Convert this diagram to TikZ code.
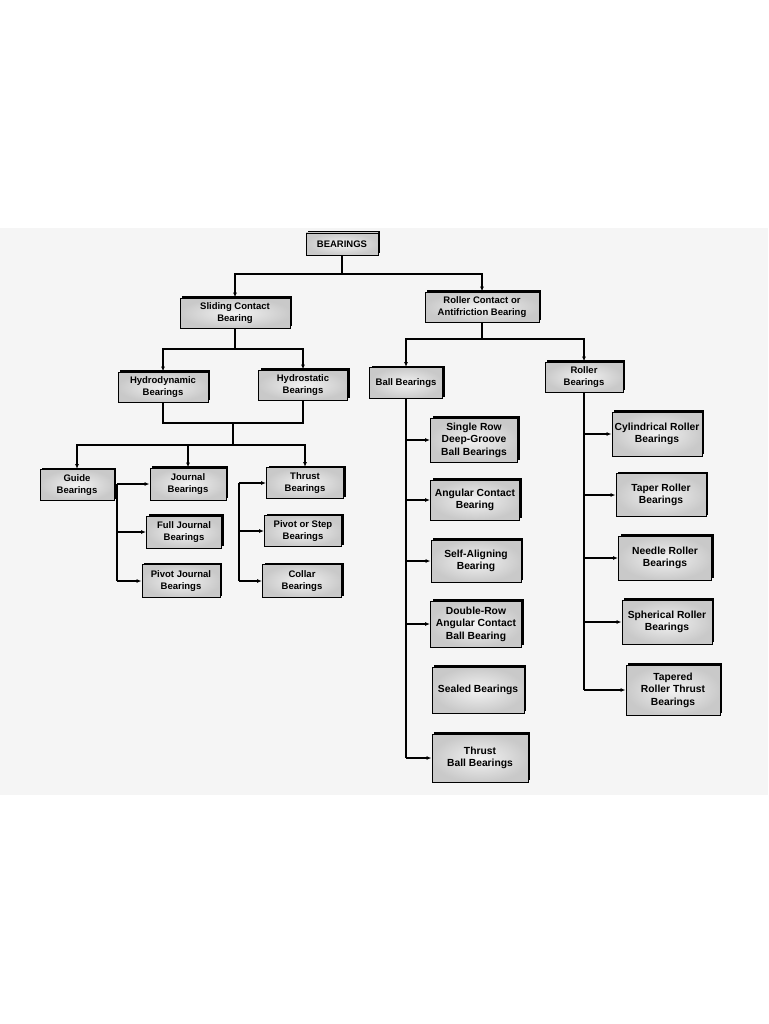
\documentclass[tikz,border=0pt]{standalone}
\usepackage{fontspec}
\setmainfont{Liberation Sans}
\usetikzlibrary{positioning, shadows, arrows.meta}

\tikzset{
  box/.style={draw=black, line width=0.9pt, inner color=gray!10, outer color=gray!42,
    align=center, inner sep=1pt, font=\bfseries\fontsize{9.5}{11.5}\selectfont,
    drop shadow={shadow xshift=2pt, shadow yshift=2pt, fill=black, opacity=1}},
  bigbox/.style={box, font=\bfseries\fontsize{10.3}{12.5}\selectfont},
  branch/.style={-{Latex[length=5pt,width=4pt]}},
  link/.style={line width=1.1pt}
}

\begin{document}
\begin{tikzpicture}[x=1pt, y=-1pt, link]
\useasboundingbox (0,0) rectangle (768,1024);
\fill[gray!8] (0,228) rectangle (768,795);
% top levels
\node [box, minimum width=72pt, minimum height=22pt] (bear) at (342,244) {BEARINGS};
\node [box, minimum width=110pt, minimum height=30pt] (slide) at (235,313) {Sliding Contact\\Bearing};
\node [box, minimum width=114pt, minimum height=30pt] (roll) at (482,307) {Roller Contact or\\Antifriction Bearing};
\node [box, minimum width=90pt, minimum height=30pt] (hydd) at (163,387) {Hydrodynamic\\Bearings};
\node [box, minimum width=89pt, minimum height=30pt] (hyds) at (303,385) {Hydrostatic\\Bearings};
\node [box, minimum width=73pt, minimum height=31pt] (ball) at (406,383) {Ball Bearings};
\node [box, minimum width=78pt, minimum height=30pt] (rlr) at (584,377) {Roller\\Bearings};
% sliding contact types
\node [box, minimum width=74pt, minimum height=31pt] (guide) at (77,485) {Guide\\Bearings};
\node [box, minimum width=76pt, minimum height=32pt] (jour) at (188,484) {Journal\\Bearings};
\node [box, minimum width=77pt, minimum height=31pt] (thr) at (305,483) {Thrust\\Bearings};
\node [box, minimum width=75pt, minimum height=32pt] (full) at (184,532) {Full Journal\\Bearings};
\node [box, minimum width=77pt, minimum height=31pt] (pivs) at (303,531) {Pivot or Step\\Bearings};
\node [box, minimum width=78pt, minimum height=33pt] (pivj) at (181,581) {Pivot Journal\\Bearings};
\node [box, minimum width=79pt, minimum height=33pt] (coll) at (302,581) {Collar\\Bearings};
% ball bearings
\node [bigbox, minimum width=87pt, minimum height=44pt] (srow) at (474,440) {Single Row\\Deep-Groove\\Ball Bearings};
\node [bigbox, minimum width=89pt, minimum height=40pt] (ang) at (475,500) {Angular Contact\\Bearing};
\node [bigbox, minimum width=90pt, minimum height=42pt] (self) at (476,561) {Self-Aligning\\Bearing};
\node [bigbox, minimum width=91pt, minimum height=46pt] (drow) at (476,624) {Double-Row\\Angular Contact\\Ball Bearing};
\node [bigbox, minimum width=92pt, minimum height=46pt] (seal) at (478,690) {Sealed Bearings};
\node [bigbox, minimum width=96pt, minimum height=48pt] (tball) at (480,758) {Thrust\\Ball Bearings};
% roller bearings
\node [bigbox, minimum width=90pt, minimum height=44pt] (cyl) at (657,434) {Cylindrical Roller\\Bearings};
\node [bigbox, minimum width=90pt, minimum height=43pt] (tap) at (661,495) {Taper Roller\\Bearings};
\node [bigbox, minimum width=93pt, minimum height=44pt] (need) at (665,558) {Needle Roller\\Bearings};
\node [bigbox, minimum width=90pt, minimum height=44pt] (sph) at (667,622) {Spherical Roller\\Bearings};
\node [bigbox, minimum width=94pt, minimum height=50pt] (tprt) at (673,690) {Tapered\\Roller Thrust\\Bearings};
% junctions
\coordinate (topj) at (342,274);
\coordinate (sj) at (235,349);
\coordinate (rj) at (482,339);
\coordinate (hj) at (233,423);
\coordinate (sj2) at (233,445);
\coordinate (jbus) at (117,581);
\coordinate (tbus) at (239,581);
\coordinate (bbus) at (406,758);
\coordinate (rbus) at (584,690);
% connectors
\draw (bear) -- (topj);
\draw [branch] (topj) -| (slide);
\draw [branch] (topj) -| (roll);
\draw (slide) -- (sj);
\draw [branch] (sj) -| (hydd);
\draw [branch] (sj) -| (hyds);
\draw (roll) -- (rj);
\draw [branch] (rj) -| (ball);
\draw [branch] (rj) -| (rlr);
\draw (hydd) |- (hj) -| (hyds);
\draw (hj) -- (sj2);
\foreach \n in {guide, jour, thr} \draw [branch] (sj2) -| (\n);
\draw (jbus |- jour) -- (jbus);
\foreach \n in {jour, full, pivj} \draw [branch] (jbus |- \n) -- (\n);
\draw (tbus |- thr) -- (tbus);
\foreach \n in {thr, pivs, coll} \draw [branch] (tbus |- \n) -- (\n);
\draw (ball) -- (bbus);
\foreach \n in {srow, ang, self, drow, tball} \draw [branch] (bbus |- \n) -- (\n);
\draw (rlr) -- (rbus);
\foreach \n in {cyl, tap, need, sph, tprt} \draw [branch] (rbus |- \n) -- (\n);
\end{tikzpicture}
\end{document}
